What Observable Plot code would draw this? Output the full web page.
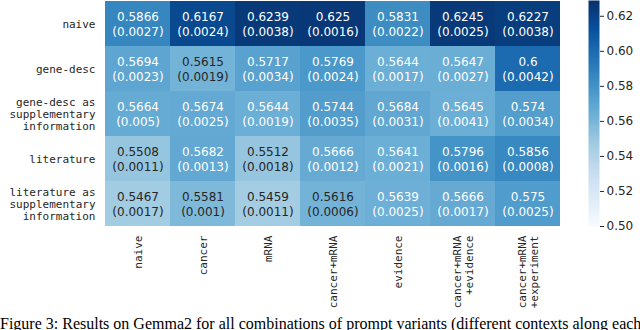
<!DOCTYPE html>
<html>
<head>
<meta charset="utf-8">
<script src="https://cdn.jsdelivr.net/npm/d3@7"></script>
<script src="https://cdn.jsdelivr.net/npm/@observablehq/plot@0.6"></script>
<style>
  html, body { margin: 0; padding: 0; background: #fff; }
  #wrap { position: relative; width: 640px; height: 330px; overflow: hidden; }
  #main { position: absolute; left: 0; top: 0; }
  #bar { position: absolute; left: 570px; top: 0; }
  #caption { position: absolute; left: 0; top: 316px; font-family: "Liberation Serif", serif; font-size: 16px; line-height: 16px; white-space: nowrap; color: #000; }
</style>
</head>
<body>
<div id="wrap">
  <div id="main"></div>
  <div id="bar"></div>
  <div id="caption">Figure 3: Results on Gemma2 for all combinations of prompt variants (different contexts along each</div>
</div>
<script>
// Row (context) and column (prompt) categories
const rowLabels = ["naive", "gene-desc", "gene-desc as\nsupplementary\ninformation", "literature", "literature as\nsupplementary\ninformation"];
const colLabels = ["naive", "cancer", "mRNA", "cancer+mRNA", "evidence", "cancer+mRNA\n+evidence", "cancer+mRNA\n+experiment"];

// Mean values per row
const naiveMean      = [0.5866, 0.6167, 0.6239, 0.625, 0.5831, 0.6245, 0.6227];
const geneDescMean   = [0.5694, 0.5615, 0.5717, 0.5769, 0.5644, 0.5647, 0.6];
const geneSuppMean   = [0.5664, 0.5674, 0.5644, 0.5744, 0.5684, 0.5645, 0.574];
const literatureMean = [0.5508, 0.5682, 0.5512, 0.5666, 0.5641, 0.5796, 0.5856];
const litSuppMean    = [0.5467, 0.5581, 0.5459, 0.5616, 0.5639, 0.5666, 0.575];

// Standard deviations per row
const naiveSd      = [0.0027, 0.0024, 0.0038, 0.0016, 0.0022, 0.0025, 0.0038];
const geneDescSd   = [0.0023, 0.0019, 0.0034, 0.0024, 0.0017, 0.0027, 0.0042];
const geneSuppSd   = [0.005, 0.0025, 0.0019, 0.0035, 0.0031, 0.0041, 0.0034];
const literatureSd = [0.0011, 0.0013, 0.0018, 0.0012, 0.0021, 0.0016, 0.0008];
const litSuppSd    = [0.0017, 0.001, 0.0011, 0.0006, 0.0025, 0.0017, 0.0025];

// Colorbar ticks
const colorTicks = [0.50, 0.52, 0.54, 0.56, 0.58, 0.60, 0.62];

// Blues palette stops (ColorBrewer 9-class, as in matplotlib "Blues")
const bluesStops = ["#f7fbff", "#deebf7", "#c6dbef", "#9ecae1", "#6baed6", "#4292c6", "#2171b5", "#08519c", "#08306b"];

const means = [naiveMean, geneDescMean, geneSuppMean, literatureMean, litSuppMean];
const sds = [naiveSd, geneDescSd, geneSuppSd, literatureSd, litSuppSd];

const cells = [];
rowLabels.forEach((r, i) => colLabels.forEach((c, j) => {
  cells.push({row: r, col: c, value: means[i][j], sd: sds[i][j]});
}));

const vmin = 0.5, vmax = 0.629;
const stopDomain = bluesStops.map((_, i) => vmin + (vmax - vmin) * i / (bluesStops.length - 1));
const colorOpts = {type: "linear", domain: stopDomain, range: bluesStops, interpolate: "rgb", clamp: true};
const colorFn = d3.scaleLinear().domain(stopDomain).range(bluesStops).interpolate(d3.interpolateRgb).clamp(true);

function lum(v) {
  const c = d3.rgb(colorFn(v));
  const lin = x => { x /= 255; return x <= 0.03928 ? x / 12.92 : Math.pow((x + 0.055) / 1.055, 2.4); };
  return 0.2126 * lin(c.r) + 0.7152 * lin(c.g) + 0.0722 * lin(c.b);
}
const isDark = d => lum(d.value) <= 0.408;
const cellText = d => `${d.value}\n(${d.sd})`;
const mono = "DejaVu Sans Mono";
const sans = "DejaVu Sans";

const main = Plot.plot({
  width: 570,
  height: 314,
  marginLeft: 105,
  marginRight: 10,
  marginTop: 0,
  marginBottom: 88,
  x: {domain: colLabels, padding: 0, axis: null},
  y: {domain: rowLabels, padding: 0, axis: null},
  color: colorOpts,
  marks: [
    Plot.cell(cells, {x: "col", y: "row", fill: "value", inset: 0}),
    Plot.text(cells.filter(isDark), {x: "col", y: "row", text: cellText, fill: "white", fontSize: 12, fontFamily: sans, lineHeight: 1.17}),
    Plot.text(cells.filter(d => !isDark(d)), {x: "col", y: "row", text: cellText, fill: "#262626", fontSize: 12, fontFamily: sans, lineHeight: 1.17}),
    Plot.text(rowLabels, {y: d => d, text: d => d, frameAnchor: "left", textAnchor: "end", dx: -10, fontFamily: mono, fontSize: 11, lineHeight: 1.12, fill: "#262626"}),
    Plot.text(colLabels, {x: d => d, text: d => d, frameAnchor: "bottom", rotate: -90, textAnchor: "end", lineAnchor: "middle", dy: 9, fontFamily: mono, fontSize: 11, lineHeight: 1.1, fill: "#262626"})
  ]
});
document.getElementById("main").appendChild(main);

const bar = Plot.plot({
  width: 70,
  height: 314,
  marginLeft: 18,
  marginRight: 41,
  marginTop: 0,
  marginBottom: 88,
  x: {domain: [0, 1], axis: null},
  y: {domain: [vmin, vmax]},
  color: colorOpts,
  marks: [
    Plot.raster({x1: 0, x2: 1, y1: vmin, y2: vmax, width: 1, height: 256, fill: (x, y) => y, imageRendering: "auto"}),
    Plot.axisY({anchor: "right", ticks: colorTicks, tickFormat: d3.format(".2f"), tickSize: 4, tickPadding: 3, fontSize: 12, fontFamily: sans, color: "#262626"})
  ]
});
document.getElementById("bar").appendChild(bar);
</script>
</body>
</html>
